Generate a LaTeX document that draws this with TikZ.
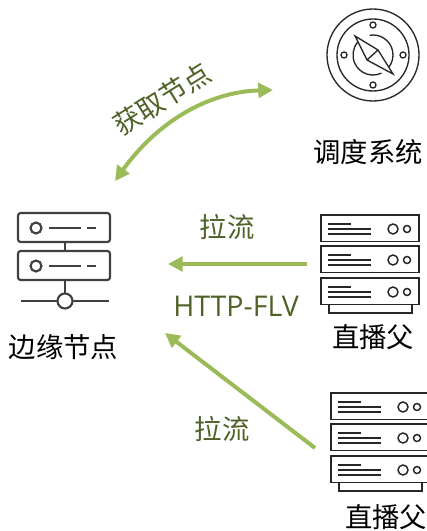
\documentclass[tikz,border=0pt]{standalone}
\usepackage{fontspec}
\setmainfont{Noto Sans CJK SC}
\newfontfamily\latinfont{Open Sans}
\usetikzlibrary{arrows.meta, positioning}
\definecolor{flowgreen}{HTML}{9BBB59}
\definecolor{textgreen}{HTML}{4F6228}
\definecolor{icongray}{HTML}{404040}
\definecolor{rackgray}{HTML}{262626}
\tikzstyle{nodetext} = [font=\fontsize{20.5}{24}\selectfont, text=black, inner sep=0pt]
\tikzstyle{flowtext} = [font=\fontsize{20.5}{24}\selectfont, text=textgreen, inner sep=0pt]
\tikzstyle{arrow} = [line width=3pt, draw=flowgreen, -{Triangle[length=11pt,width=11pt,fill=flowgreen]}]
\tikzstyle{twoway} = [line width=3pt, draw=flowgreen, {Triangle[length=11pt,width=11pt,fill=flowgreen]}-{Triangle[length=11pt,width=11pt,fill=flowgreen]}]
\tikzset{
  rack/.pic={
    \foreach \row in {0,31,63} {
      \draw (0,\row) rectangle (98,\row+26.5);
      \draw (7,\row+9) -- (30,\row+9);
      \draw (7,\row+14) -- (50,\row+14);
      \draw (7,\row+19) -- (50,\row+19);
      \draw (72,\row+14) circle (5);
      \draw (86,\row+14) circle (3.5);
    }
    \draw (8,89.5) -- (8,98) -- (91,98) -- (91,89.5);
  },
  edgeunit/.pic={
    \draw[rounded corners=2pt] (0,0) rectangle (92,29);
    \draw (18,15) circle (5.5);
    \draw (31,15) -- (63,15);
    \draw (69,15) -- (78,15);
  }
}
\begin{document}
\begin{tikzpicture}[x=0.75pt, y=-0.75pt]
\useasboundingbox (0,0) rectangle (427,531);

% edge node
\begin{scope}[draw=icongray, line width=1.6pt]
\pic at (18,213) {edgeunit};
\pic at (18,251) {edgeunit};
\draw (65,242) -- (65,251);
\draw (65,280) -- (65,293.5);
\draw (21,301) -- (57.5,301);
\draw (72.5,301) -- (109,301);
\draw (65,301) circle (7.5);
\end{scope}

% scheduler
\begin{scope}[draw=rackgray, line width=1pt]
\draw (373,55) circle (46);
\draw (373,55) circle (36);
\draw (373,25) circle (3);
\draw (373,85) circle (3);
\draw (344,55) circle (3);
\draw (403,55) circle (3);
\draw (373,55) ++(-100:20) arc (-100:38:20);
\draw (373,55) ++(65:20) arc (65:220:20);
\draw (355,36) -- (378,50) -- (393,74) -- (367,60) -- cycle;
\draw (378,50) -- (367,60);
\end{scope}

% live parents
\begin{scope}[draw=rackgray, line width=1.1pt]
\pic at (321,215) {rack};
\pic at (331,393) {rack};
\end{scope}

\node (edge) [nodetext] at (63.5,347) {边缘节点};
\node (sched) [nodetext] at (368,152) {调度系统};
\node (parent1) [nodetext] at (373,337) {直播父};
\node (parent2) [nodetext] at (386,517) {直播父};
\node (fetch) [flowtext, rotate=32] at (162,99) {获取节点};
\node (pull1) [flowtext] at (227,227) {拉流};
\node (proto) [flowtext, font=\latinfont\fontsize{21.4}{24}\selectfont] at (236,306) {HTTP-FLV};
\node (pull2) [flowtext] at (222,429) {拉流};

\coordinate (edgetop) at (115,181);
\coordinate (schedin) at (273,90);
\coordinate (edgein1) at (168,264);
\coordinate (parentout1) at (307,264);
\coordinate (edgein2) at (165,333);
\coordinate (parentout2) at (315,448);

\draw[twoway] (edgetop) .. controls (155,125) and (205,92) .. (schedin);
\draw[arrow] (parentout1) -- (edgein1);
\draw[arrow] (parentout2) -- (edgein2);
\end{tikzpicture}
\end{document}
